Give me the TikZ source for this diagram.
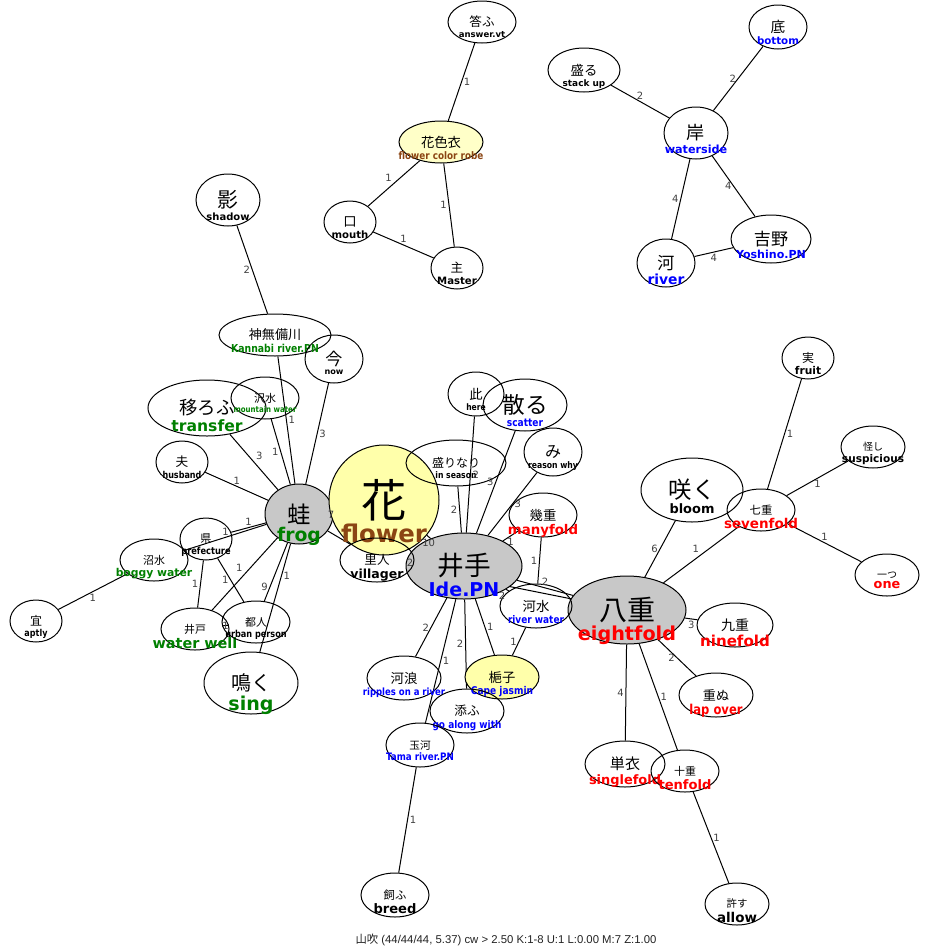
\documentclass[tikz,border=0pt]{standalone}
\usepackage{fontspec}
\usetikzlibrary{shapes.geometric}
\newfontfamily\jpf{Noto Sans CJK JP}
\newfontfamily\enf{DejaVu Sans}
\newfontfamily\encf{DejaVu Sans}[FakeStretch=0.85]
\newfontfamily\ftf{Liberation Sans}
\definecolor{cgreen}{HTML}{008000}
\definecolor{cblue}{HTML}{0000FF}
\definecolor{cred}{HTML}{FF0000}
\definecolor{cbrown}{HTML}{8B4513}
\definecolor{nodegray}{HTML}{C8C8C8}
\definecolor{nodeyel}{HTML}{FFFFAA}
\definecolor{nodeyellight}{HTML}{FFFFC8}
\definecolor{lblgray}{HTML}{404040}
\definecolor{foot}{HTML}{222222}
\pgfdeclarelayer{bg}
\pgfsetlayers{bg,main}
\newsavebox\jpbx
\newsavebox\enbx
\newcommand\txgen[6]{%
  \sbox\jpbx{\jpf\fontsize{#2}{#2}\selectfont #3}%
  \sbox\enbx{#1\bfseries\fontsize{#4}{#4}\selectfont\color{#5}#6}%
  \usebox\jpbx\kern-.5\wd\jpbx
  \makebox[0pt]{\raisebox{\dimexpr-\dp\jpbx-\ht\enbx-2.5pt\relax}[0pt][0pt]{\usebox\enbx}}%
  \kern.5\wd\jpbx}
\newcommand\tx{\txgen\enf}
\newcommand\txc{\txgen\encf}
\tikzset{
  nd/.style 2 args={ellipse, draw=black, line width=0.75pt, inner sep=0pt,
    minimum width=#1*1.5pt, minimum height=#2*1.5pt},
  grayn/.style={fill=nodegray},
  yeln/.style={fill=nodeyel},
  conn/.style={draw=black, line width=0.75pt},
  elbl/.style={font=\enf\fontsize{7.5}{7.5}\selectfont, text=lblgray, inner sep=1.5pt},
}
\newcommand\ed[4][]{%
  \begin{pgfonlayer}{bg}\draw[conn] (#2) -- (#3);\end{pgfonlayer}%
  \path (#2) -- node[elbl,#1]{#4} (#3);}
\newcommand\edn[2]{%
  \begin{pgfonlayer}{bg}\draw[conn] (#1) -- (#2);\end{pgfonlayer}}
\begin{document}
\begin{tikzpicture}[x=0.75pt,y=-0.75pt]
\useasboundingbox (0,0) rectangle (931,950);
% filled nodes
\node[nd={34}{30},grayn] (frog) at (299,514) {\tx{17.5}{蛙}{14.1}{cgreen}{frog}};
\node[nd={58}{33},grayn] (ide) at (464,566) {\tx{20}{井手}{14.3}{cblue}{Ide.PN}};
\node[nd={59}{34},grayn] (eight) at (627,610) {\tx{21}{八重}{14.4}{cred}{eightfold}};
\node[nd={55}{55},yeln] (flower) at (384,500) {\tx{34}{花}{18.3}{cbrown}{flower}};
\node[nd={37}{22},yeln] (cape) at (502,677) {\txc{10}{梔子}{8}{cblue}{Cape jasmin}};
\node[nd={42}{21},fill=nodeyellight] (robe) at (441,142) {\txc{10}{花色衣}{7.8}{cbrown}{flower color robe}};
% white nodes
\node[nd={34}{21}] (ans) at (482,22) {\tx{9.4}{答ふ}{6.4}{black}{answer.vt}};
\node[nd={26}{21}] (mouth) at (350,222) {\tx{10}{口}{7.6}{black}{mouth}};
\node[nd={26}{21}] (master) at (457,268) {\tx{9.4}{主}{7.6}{black}{Master}};
\node[nd={29}{22}] (bottom) at (778,27) {\tx{11}{底}{7.7}{cblue}{bottom}};
\node[nd={36}{22}] (stack) at (584,70) {\tx{10}{盛る}{6.7}{black}{stack up}};
\node[nd={32}{26}] (shore) at (696,133) {\tx{13.6}{岸}{8.4}{cblue}{waterside}};
\node[nd={40}{24}] (yoshino) at (771,239) {\tx{12.8}{吉野}{8.3}{cblue}{Yoshino.PN}};
\node[nd={29}{24}] (river) at (666,263) {\tx{12.8}{河}{10.4}{cblue}{river}};
\node[nd={32}{26}] (shadow) at (228,200) {\tx{15.6}{影}{7.5}{black}{shadow}};
\node[nd={56}{21}] (kanna) at (275,335) {\txc{9.8}{神無備川}{8.2}{cgreen}{Kannabi river.PN}};
\node[nd={29}{24}] (now) at (334,359) {\tx{12.8}{今}{6.1}{black}{now}};
\node[nd={59}{28}] (transfer) at (207,408) {\tx{13.8}{移ろふ}{11.7}{cgreen}{transfer}};
\node[nd={34}{21}] (mwater) at (265,398) {\txc{8.2}{沢水}{6.2}{cgreen}{mountain water}};
\node[nd={26}{21}] (husband) at (182,462) {\txc{9.5}{夫}{7.1}{black}{husband}};
\node[nd={26}{21}] (pref) at (206,539) {\txc{8.3}{県}{7.3}{black}{prefecture}};
\node[nd={34}{21}] (boggy) at (154,560) {\tx{8.2}{沼水}{8.1}{cgreen}{boggy water}};
\node[nd={26}{21}] (aptly) at (36,621) {\txc{9}{宜}{7.1}{black}{aptly}};
\node[nd={34}{21}] (well) at (195,629) {\tx{8.2}{井戸}{10.8}{cgreen}{water well}};
\node[nd={34}{21}] (urban) at (256,622) {\txc{8.2}{都人}{7.2}{black}{urban person}};
\node[nd={47}{31}] (sing) at (251,683) {\tx{15}{鳴く}{14.3}{cgreen}{sing}};
\node[nd={37}{22}] (villager) at (377,560) {\tx{9.4}{里人}{9.4}{black}{villager}};
\node[nd={50}{23}] (season) at (456,463) {\txc{9}{盛りなり}{6.8}{black}{in season}};
\node[nd={28}{22}] (here) at (476,394) {\txc{10}{此}{6.7}{black}{here}};
\node[nd={42}{26}] (scatter) at (525,405) {\txc{17}{散る}{8}{cblue}{scatter}};
\node[nd={29}{24}] (why) at (553,452) {\txc{12}{み}{6.8}{black}{reason why}};
\node[nd={34}{22}] (many) at (543,515) {\tx{10}{幾重}{10}{cred}{manyfold}};
\node[nd={36}{22}] (rwater) at (536,606) {\txc{10}{河水}{7.9}{cblue}{river water}};
\node[nd={37}{22}] (ripples) at (404,678) {\txc{10}{河浪}{7.5}{cblue}{ripples on a river}};
\node[nd={37}{22}] (along) at (467,711) {\txc{9.5}{添ふ}{7.9}{cblue}{go along with}};
\node[nd={34}{22}] (tama) at (420,745) {\txc{8}{玉河}{7.7}{cblue}{Tama river.PN}};
\node[nd={34}{22}] (breed) at (395,895) {\tx{8.5}{飼ふ}{9.8}{black}{breed}};
\node[nd={51}{32}] (bloom) at (692,490) {\tx{17.5}{咲く}{9.7}{black}{bloom}};
\node[nd={34}{21}] (seven) at (761,510) {\tx{8.5}{七重}{10.1}{cred}{sevenfold}};
\node[nd={26}{21}] (fruit) at (808,358) {\tx{9}{実}{8}{black}{fruit}};
\node[nd={32}{21}] (susp) at (873,447) {\tx{7.5}{怪し}{7.9}{black}{suspicious}};
\node[nd={32}{21}] (one) at (887,575) {\tx{7.5}{一つ}{9.6}{cred}{one}};
\node[nd={38}{22}] (nine) at (735,625) {\tx{10.5}{九重}{11.3}{cred}{ninefold}};
\node[nd={37}{22}] (lap) at (716,695) {\txc{9.8}{重ぬ}{10.2}{cred}{lap over}};
\node[nd={40}{23}] (single) at (625,764) {\tx{11.3}{単衣}{9.7}{cred}{singlefold}};
\node[nd={34}{21}] (ten) at (685,771) {\tx{8.2}{十重}{9.8}{cred}{tenfold}};
\node[nd={32}{21}] (allow) at (737,904) {\tx{7.8}{許す}{10.1}{black}{allow}};
% edges
\ed[right]{ans}{robe}{1}
\ed[above left]{robe}{mouth}{1}
\ed[left]{robe}{master}{1}
\ed[above]{mouth}{master}{1}
\ed[above]{stack}{shore}{2}
\ed[left]{bottom}{shore}{2}
\ed[left]{shore}{river}{4}
\ed[left]{shore}{yoshino}{4}
\ed[below]{river}{yoshino}{4}
\ed[left]{shadow}{kanna}{2}
\ed[right]{kanna}{frog}{1}
\ed[right]{now}{frog}{3}
\ed[above right]{transfer}{frog}{3}
\ed[left]{mwater}{frog}{1}
\ed[above]{husband}{frog}{1}
\ed[above]{boggy}{frog}{1}
\ed[above]{pref}{frog}{1}
\ed[below]{boggy}{aptly}{1}
\ed[left]{pref}{well}{1}
\ed[left]{pref}{urban}{1}
\ed[above left]{frog}{well}{1}
\ed[pos=0.75,left]{frog}{urban}{9}
\ed[pos=0.3,right]{frog}{sing}{1}
\ed{well}{urban}{1}
\ed[below]{frog}{flower}{7}
\edn{frog}{villager}
\ed[below]{flower}{ide}{10}
\ed{villager}{ide}{2}
\ed[left]{season}{ide}{2}
\ed[right]{here}{ide}{2}
\ed[left]{scatter}{ide}{3}
\ed[right]{why}{ide}{3}
\ed[below]{many}{ide}{1}
\ed[left]{many}{rwater}{1}
\ed[below left]{rwater}{ide}{2}
\ed[above]{ide}{eight}{2}
\edn{villager}{eight}
\ed[left]{ide}{ripples}{2}
\ed[right]{ide}{tama}{1}
\ed[left]{ide}{along}{2}
\ed[right]{ide}{cape}{1}
\ed[left]{rwater}{cape}{1}
\ed[right]{tama}{breed}{1}
\ed[left]{bloom}{eight}{6}
\ed[above left]{seven}{eight}{1}
\ed[right]{fruit}{seven}{1}
\ed[below]{susp}{seven}{1}
\ed[above]{seven}{one}{1}
\ed[below]{eight}{nine}{3}
\ed[left]{eight}{lap}{2}
\ed[left]{eight}{single}{4}
\ed[right]{eight}{ten}{1}
\ed[right]{ten}{allow}{1}
% footer
\node[text=foot, inner sep=0pt] (info) at (506,940)
  {\ftf\fontsize{8.5}{8.5}\selectfont{\jpf 山吹} (44/44/44, 5.37) cw > 2.50 K:1-8 U:1 L:0.00 M:7 Z:1.00};
\end{tikzpicture}
\end{document}
